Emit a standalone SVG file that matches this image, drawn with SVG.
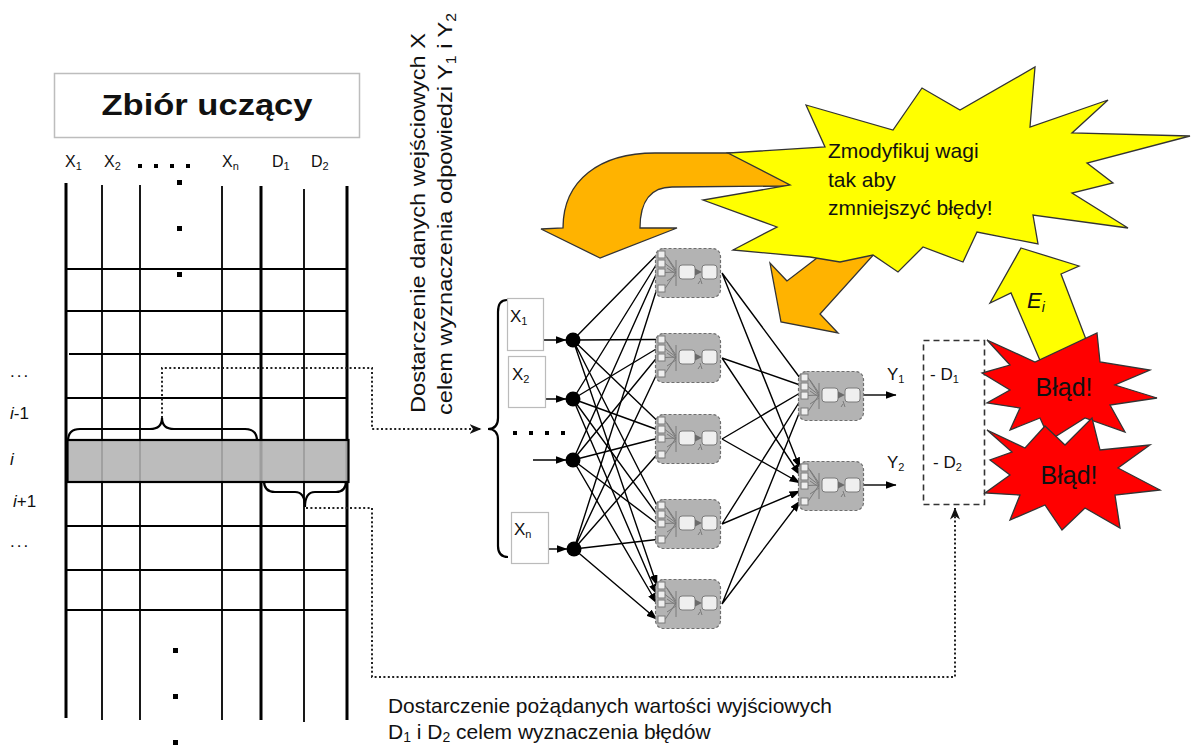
<svg xmlns="http://www.w3.org/2000/svg" xmlns:xlink="http://www.w3.org/1999/xlink" width="1192" height="747" viewBox="0 0 1192 747">
<style>
text{font-family:"Liberation Sans",Arial,sans-serif;fill:#111}
.hdr{font-size:16px}
.sub{font-size:11px}
.lbl{font-size:17px}
.big{font-size:21px}
.tl{stroke:#000;stroke-width:1.8;fill:none}
.tk{stroke:#000;stroke-width:3;fill:none}
.dot{stroke:#222;stroke-width:2;stroke-dasharray:2 2.4;fill:none}
.br{stroke:#000;stroke-width:2.2;fill:none}
.nn{stroke:#000;stroke-width:1.4;fill:none;marker-end:url(#ah)}
.shape{stroke:#333;stroke-width:1.3;stroke-linejoin:miter}
.ibox{fill:#fff;stroke:#bbb;stroke-width:1.2}
</style>
<defs>
<marker id="ah" viewBox="0 0 11 8" refX="10.5" refY="4" markerWidth="11" markerHeight="8" markerUnits="userSpaceOnUse" orient="auto"><path d="M0,0 L11,4 L0,8 Z" fill="#000"/></marker>
<marker id="st" viewBox="0 0 12 10" refX="11.5" refY="5" markerWidth="12" markerHeight="10" markerUnits="userSpaceOnUse" orient="auto"><path d="M0,0 L12,5 L0,10 L3.5,5 Z" fill="#111"/></marker>
<g id="neuron">
<rect x="0.5" y="0.5" width="65" height="49" rx="8" fill="#b3b3b3" stroke="#6e6e6e" stroke-width="1.2" stroke-dasharray="3 2"/>
<g stroke="#7a7a7a" stroke-width="1" fill="none">
<path d="M10,6.5 L21,24 M10,15.5 L21,24 M10,24.5 L21,24 M10,40.5 L21,24 M12,9 L21,22 M12,20 L21,26 M12,33 L21,27"/>
<path d="M21,12 V38"/>
<path d="M45,30 l2,6 M45,33 l-2,3"/>
</g>
<g fill="#efefef" stroke="#7a7a7a" stroke-width="1">
<rect x="3" y="3" width="7" height="7"/>
<rect x="3" y="12" width="7" height="7"/>
<rect x="3" y="21" width="7" height="7"/>
<rect x="3" y="37" width="7" height="7"/>
<rect x="24" y="17" width="16" height="14" rx="3"/>
<rect x="47" y="17" width="15" height="14" rx="3"/>
</g>
<path d="M40,20.5 L47,24 L40,27.5 Z" fill="#6a6a6a"/>
</g>
</defs>
<rect width="1192" height="747" fill="#fff"/>

<g id="title">
<rect x="54.5" y="73.5" width="305" height="64" fill="#fff" stroke="#bdbdbd" stroke-width="1.5"/>
<text x="207" y="115" font-size="29" font-weight="bold" text-anchor="middle" textLength="211" lengthAdjust="spacingAndGlyphs">Zbiór uczący</text>
</g>
<g id="headers" class="hdr">
<text x="65" y="167">X<tspan class="sub" dy="3">1</tspan></text>
<text x="104" y="167">X<tspan class="sub" dy="3">2</tspan></text>
<text x="222" y="167">X<tspan class="sub" dy="3">n</tspan></text>
<text x="272" y="167">D<tspan class="sub" dy="3">1</tspan></text>
<text x="311" y="167">D<tspan class="sub" dy="3">2</tspan></text>
</g>
<g id="table">
<g fill="#000">
<rect x="138" y="164" width="4" height="4"/><rect x="154" y="164" width="4" height="4"/><rect x="170" y="164" width="4" height="4"/><rect x="186" y="164" width="4" height="4"/>
<rect x="177" y="180" width="5" height="5"/><rect x="177" y="226" width="5" height="5"/><rect x="177" y="272" width="5" height="5"/>
<rect x="173" y="648" width="5" height="5"/><rect x="173" y="694" width="5" height="5"/><rect x="173" y="740" width="5" height="5"/>
</g>
<path class="tl" d="M102,185 V720 M140,185 V720 M222,186 V720 M304,189 V722"/>
<path class="tk" d="M66,183 V718 M261,186 V720 M347,186 V720"/>
<path class="tl" d="M66,269 H347 M66,311 H347 M69,354 H347 M66,398 H347 M66,526 H347 M66,570 H347 M66,610 H347"/>
<rect x="67.5" y="440" width="281" height="42" fill="#b3b3b3" fill-opacity="0.88" stroke="#000" stroke-width="2.2"/>
</g>
<g id="rowlabels" class="lbl">
<text x="10" y="377" letter-spacing="2">...</text>
<text x="10" y="419"><tspan font-style="italic">i</tspan>-1</text>
<text x="10" y="465" font-style="italic">i</text>
<text x="13" y="507"><tspan font-style="italic">i</tspan>+1</text>
<text x="10" y="547" letter-spacing="2">...</text>
</g>

<g id="connectors">
<path class="br" d="M68,441 Q68,429 80,429 H150 Q162,429 162,418 Q162,429 174,429 H245 Q257,429 257,441"/>
<path class="br" d="M264,481 Q264,492 275,492 H295 Q305,492 305,507 Q305,492 315,492 H336 Q346,492 346,481"/>
<path class="br" d="M507,300 Q498,300 498,312 V418 Q498,429 488,429 Q498,429 498,440 V546 Q498,557 508,557"/>
<path class="dot" d="M162,418 V368 H372 V429 H481" marker-end="url(#st)"/>
<path class="dot" d="M306,508 H372 V677 H955 V508" marker-end="url(#st)"/>
<path class="nn" d="M533,340 H566"/>
<path class="nn" d="M533,399 H566"/>
<path class="nn" d="M533,460 H566"/>
<path class="nn" d="M535,549 H567"/>
<path class="nn" d="M573,340 L657,254.5 M573,340 L657,339.5 M573,340 L657,420.5 M573,340 L657,505.5 M573,340 L657,585.5"/>
<path class="nn" d="M573,399 L657,263.5 M573,399 L657,348.5 M573,399 L657,429.5 M573,399 L657,514.5 M573,399 L657,594.5"/>
<path class="nn" d="M573,460 L657,272.5 M573,460 L657,357.5 M573,460 L657,438.5 M573,460 L657,523.5 M573,460 L657,603.5"/>
<path class="nn" d="M574,549 L657,288.5 M574,549 L657,373.5 M574,549 L657,454.5 M574,549 L657,539.5 M574,549 L657,619.5"/>
<path class="nn" d="M722,273 L800,378 M722,273 L800,468"/>
<path class="nn" d="M722,358 L800,385 M722,358 L800,475"/>
<path class="nn" d="M722,439 L800,393 M722,439 L800,483"/>
<path class="nn" d="M722,524 L800,401 M722,524 L800,491"/>
<path class="nn" d="M722,604 L800,411 M722,604 L800,501"/>
<path class="nn" d="M864,395 H896"/>
<path class="nn" d="M864,485 H896"/>
</g>

<g id="in-x1"><rect class="ibox" x="507.5" y="298.5" width="36" height="52"/><text class="lbl" x="510" y="322">X<tspan class="sub" dy="3">1</tspan></text></g>
<g id="in-x2"><rect class="ibox" x="508.5" y="356.5" width="37" height="51"/><text class="lbl" x="512" y="380">X<tspan class="sub" dy="3">2</tspan></text></g>
<g id="in-xn"><rect class="ibox" x="511.5" y="512.5" width="37" height="51"/><text class="lbl" x="514" y="535">X<tspan class="sub" dy="3">n</tspan></text></g>
<g id="in-dots" fill="#000"><rect x="513" y="431" width="4" height="4"/><rect x="529" y="431" width="4" height="4"/><rect x="545" y="431" width="4" height="4"/><rect x="561" y="431" width="4" height="4"/></g>
<g id="c1"><circle cx="573" cy="340" r="7.5" fill="#000"/></g>
<g id="c2"><circle cx="573" cy="399" r="7.5" fill="#000"/></g>
<g id="c3"><circle cx="573" cy="460" r="7.5" fill="#000"/></g>
<g id="c4"><circle cx="574" cy="549" r="7.5" fill="#000"/></g>
<g id="h1"><use xlink:href="#neuron" x="655" y="248"/></g>
<g id="h2"><use xlink:href="#neuron" x="655" y="333"/></g>
<g id="h3"><use xlink:href="#neuron" x="655" y="414"/></g>
<g id="h4"><use xlink:href="#neuron" x="655" y="499"/></g>
<g id="h5"><use xlink:href="#neuron" x="655" y="579"/></g>
<g id="o1"><use xlink:href="#neuron" x="798" y="371"/></g>
<g id="o2"><use xlink:href="#neuron" x="798" y="461"/></g>
<g id="ylabels" class="lbl">
<text x="887" y="380">Y<tspan class="sub" dy="3">1</tspan></text>
<text x="887" y="468">Y<tspan class="sub" dy="3">2</tspan></text>
</g>
<g id="dbox">
<rect x="923.5" y="340.5" width="61" height="164" fill="none" stroke="#333" stroke-width="1.6" stroke-dasharray="6 4"/>
<text class="lbl" x="930" y="380">- D<tspan class="sub" dy="3">1</tspan></text>
<text class="lbl" x="933" y="468">- D<tspan class="sub" dy="3">2</tspan></text>
</g>

<g id="arrow-back">
<path class="shape" fill="#ffb300" d="M600,258 L541,229 L563,228 C563,180 600,153 655,153 L765,153 L790,186 L672,187 C652,187 640,200 640,228 L677,228 Z"/>
</g>
<g id="arrow-down">
<path class="shape" fill="#ffb300" d="M787,281 L770,263 L781,322 L838,333 L820,314 L876,252 L830,248 Z"/>
</g>

<g id="modify">
<path class="shape" fill="#ffff00" d="M806,105 L893,130 L922,88 L960,110 L1035,67 L1030,127 L1108,100 L1072,133 L1190,136 L1087,163 L1113,183 L1072,193 L1128,228 L1033,215 L1038,244 L977,232 L963,262 L923,247 L898,272 L873,255 L840,262 L810,257 L733,250 L777,227 L703,200 L790,185 L728,153 L825,147 Z"/>
<text class="big" x="828" y="158">Zmodyfikuj wagi</text>
<text class="big" x="828" y="187">tak aby</text>
<text class="big" x="828" y="215">zmniejszyć błędy!</text>
</g>

<g id="error-arrow">
<path class="shape" fill="#ffff00" d="M1021,248 L1079,266 L1061,274 L1092,355 L1045,372 L1011,293 L990,303 Z"/>
<text x="1027" y="308" font-family="'Liberation Serif',serif" font-style="italic" font-size="22">E<tspan font-size="14" dy="4">i</tspan></text>
</g>

<g id="err1">
<path class="shape" fill="#ff0000" d="M987,340 L1035,362 L1097,333 L1100,362 L1150,370 L1115,385 L1157,398 L1110,405 L1125,432 L1085,418 L1050,440 L1040,418 L1010,430 L1020,408 L987,403 L1010,390 L982,373 L1010,365 Z"/>
<text x="1064" y="396" font-size="25" text-anchor="middle" fill="#222">Błąd!</text>
</g>
<g id="err2">
<path class="shape" fill="#ff0000" d="M987,430 L1025,448 L1045,426 L1065,445 L1092,418 L1100,450 L1150,445 L1118,468 L1160,490 L1115,495 L1120,528 L1085,508 L1062,530 L1045,505 L1010,520 L1020,495 L985,493 L1010,475 L990,460 L1012,452 Z"/>
<text x="1069" y="484" font-size="25" text-anchor="middle" fill="#222">Błąd!</text>
</g>

<g id="caption-input" class="big">
<text transform="translate(425,413) rotate(-90)" textLength="380" lengthAdjust="spacingAndGlyphs">Dostarczenie danych wejściowych X</text>
<text transform="translate(452,415) rotate(-90)" textLength="402" lengthAdjust="spacingAndGlyphs">celem wyznaczenia odpowiedzi Y<tspan font-size="14" dy="4">1</tspan><tspan dy="-4"> i Y</tspan><tspan font-size="14" dy="4">2</tspan></text>
</g>
<g id="caption-desired" class="big">
<text x="388" y="713" textLength="444" lengthAdjust="spacingAndGlyphs">Dostarczenie pożądanych  wartości wyjściowych</text>
<text x="388" y="739">D<tspan font-size="14" dy="3">1</tspan><tspan dy="-3"> i D</tspan><tspan font-size="14" dy="3">2</tspan><tspan dy="-3"> celem wyznaczenia  błędów</tspan></text>
</g>
</svg>
